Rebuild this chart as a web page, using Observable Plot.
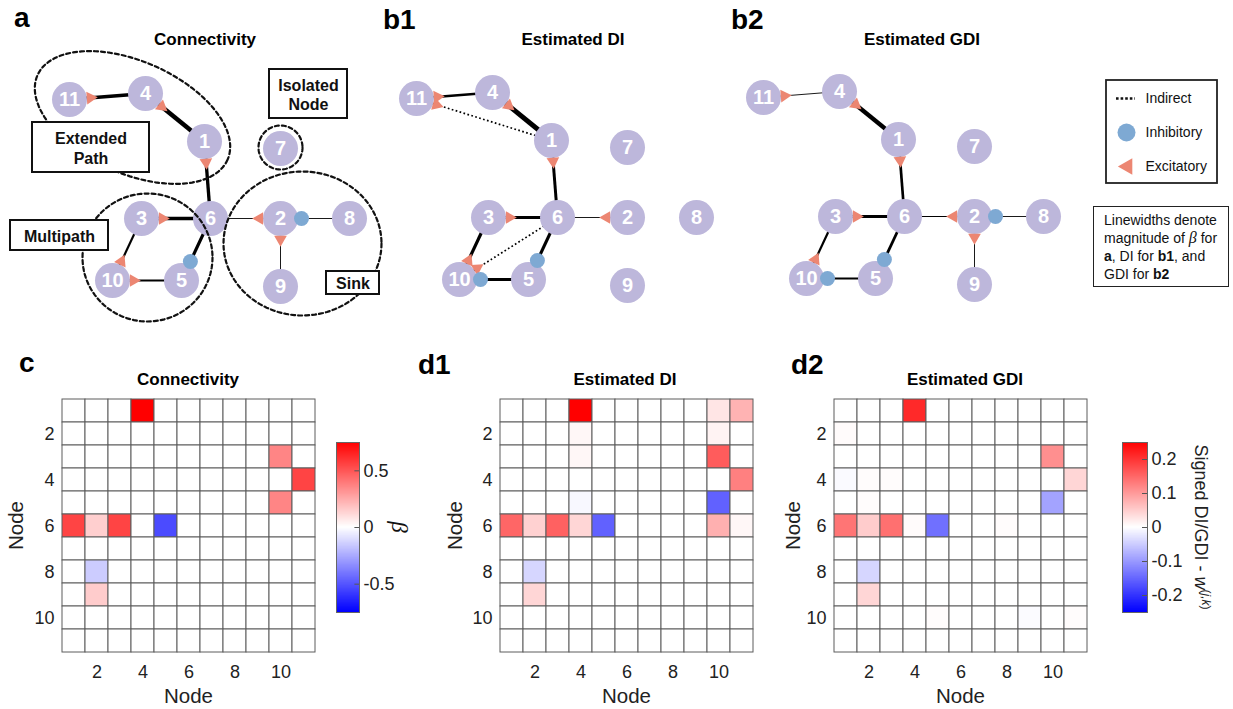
<!DOCTYPE html>
<html><head><meta charset="utf-8">
<script src="https://cdn.jsdelivr.net/npm/d3@7"></script>
<script src="https://cdn.jsdelivr.net/npm/@observablehq/plot@0.6"></script>
<style>
html,body{margin:0;padding:0;background:#fff;}
#fig{position:relative;width:1233px;height:709px;overflow:hidden;font-family:"Liberation Sans",Arial,Helvetica,sans-serif;color:#111;}
.lbl{position:absolute;white-space:nowrap;}
.pl{position:absolute;}
</style></head><body><div id="fig"></div>
<script>
const FONT = '"Liberation Sans", Arial, Helvetica, sans-serif';

// ---------------- data ----------------
const nodeIds = [1, 2, 3, 4, 5, 6, 7, 8, 9, 10, 11];
// network layout (layout units, node 6 at origin, y downward)
const layoutX = [-6, 70, -69, -65, -29, 0, 70, 139, 70, -98, -141];
const layoutY = [-77, 0, 0, -125, 62, 0, -70, 0, 68, 62, -119];

// Connectivity beta (row j, column k), non-zero entries
const connRow = [1, 3, 4, 5, 6, 6, 6, 6, 8, 9];
const connCol = [4, 10, 11, 10, 1, 2, 3, 5, 2, 2];
const connVal = [0.75, 0.36, 0.55, 0.36, 0.55, 0.14, 0.55, -0.53, -0.15, 0.15];

// Estimated DI (signed)
const diRow = [1, 1, 1, 2, 2, 3, 3, 4, 5, 5, 6, 6, 6, 6, 6, 6, 6, 8, 9];
const diCol = [4, 10, 11, 4, 10, 4, 10, 11, 4, 10, 1, 2, 3, 4, 5, 10, 11, 2, 2];
const diVal = [0.25, 0.025, 0.075, 0.008, 0.012, 0.008, 0.16, 0.125, -0.007, -0.155, 0.15, 0.045, 0.155, 0.04, -0.155, 0.077, 0.008, -0.04, 0.04];

// Estimated GDI (signed)
const gdiRow = [1, 2, 3, 4, 4, 4, 4, 5, 5, 6, 6, 6, 6, 6, 6, 8, 9, 10, 10, 10];
const gdiCol = [4, 1, 10, 1, 2, 3, 11, 2, 10, 1, 2, 3, 4, 5, 8, 2, 2, 5, 9, 11];
const gdiVal = [0.21, 0.004, 0.11, -0.005, 0.003, 0.003, 0.04, 0.003, -0.09, 0.135, 0.05, 0.14, 0.004, -0.14, 0.003, -0.04, 0.04, 0.003, -0.004, 0.003];

// edges drawn in the networks: [row j, column k] (marker at node k)
const edgesA = [[1, 4], [4, 11], [6, 1], [6, 3], [6, 2], [6, 5], [3, 10], [5, 10], [8, 2], [9, 2]];
const edgesB1 = [[1, 4], [4, 11], [6, 1], [6, 3], [6, 2], [6, 5], [3, 10], [5, 10]];
const indirectB1 = [[1, 11], [6, 10]];
const edgesB2 = [[1, 4], [4, 11], [6, 1], [6, 3], [6, 2], [6, 5], [3, 10], [5, 10], [8, 2], [9, 2]];

// annotated groups in panel a (layout units)
const groupLabels = ["Extended\nPath", "Isolated\nNode", "Multipath", "Sink"];
const groupCX = [-78, 70, -63, 92];
const groupCY = [-101, -71, 39, 25];
const groupRX = [104, 22, 65, 79];
const groupRY = [56, 22, 64, 72];
const groupAngle = [24, 0, 0, 0];
const boxX1 = [-178, 59, -200, 116];
const boxX2 = [-61, 137, -102, 169];
const boxY1 = [-96, -149, 2, 53];
const boxY2 = [-46, -100, 32, 76];

const tickNodes = [2, 4, 6, 8, 10];
const betaTicks = [-0.5, 0, 0.5];
const diTicks = [-0.2, -0.1, 0, 0.1, 0.2];
const legendItems = ["Indirect", "Inhibitory", "Excitatory"];

// ---------------- helpers ----------------
const fig = document.getElementById("fig");
const NODE = "#bdb7db", EXC = "#ec8672", INH = "#7ea9d3", INK = "#222";
const pos = new Map(nodeIds.map((id, i) => [id, {x: layoutX[i], y: layoutY[i]}]));
const bwr = t => t < 0.5 ? d3.interpolateRgb("#0000ff", "#ffffff")(t * 2) : d3.interpolateRgb("#ffffff", "#ff0000")(t * 2 - 1);
const colorScale = m => ({type: "linear", domain: [-m, m], interpolate: bwr, clamp: true});
const fmt = d => (d < 0 ? "-" : "") + Math.abs(d);

function place(node, left, top, width) {
  const d = document.createElement("div");
  d.className = "pl";
  d.style.left = left + "px"; d.style.top = top + "px"; d.style.width = width + "px";
  d.appendChild(node); fig.appendChild(d); return d;
}
function addText(html, left, top, css = "") {
  const d = document.createElement("div");
  d.className = "lbl";
  d.style.cssText = `left:${left}px;top:${top}px;` + css;
  d.innerHTML = html; fig.appendChild(d); return d;
}
function lookup(rows, cols, vals) {
  return new Map(rows.map((r, i) => [r + "-" + cols[i], vals[i]]));
}
function edgeObjs(pairs, m) {
  return pairs.map(([r, c]) => ({row: r, col: c, v: m.get(r + "-" + c)}));
}
function markers(edges) {
  return edges.map(e => {
    const a = pos.get(e.col), b = pos.get(e.row);
    const dx = b.x - a.x, dy = b.y - a.y, L = Math.hypot(dx, dy);
    const exc = e.v > 0, off = 21;
    return {x: a.x + dx / L * off, y: a.y + dy / L * off, exc, angle: Math.atan2(dy, dx) * 180 / Math.PI + 90};
  });
}

function graphPlot({left, width, cx, cy, direct, indirect = [], k, extra = []}) {
  const mk = markers(direct.concat(indirect));
  const lx1 = d => pos.get(d.col).x, ly1 = d => pos.get(d.col).y, lx2 = d => pos.get(d.row).x, ly2 = d => pos.get(d.row).y;
  return Plot.plot({
    width, height: 330, margin: 0,
    x: {domain: [left - cx, left + width - cx], axis: null},
    y: {domain: [330 - cy, -cy], axis: null},
    style: {background: "transparent", fontFamily: FONT, overflow: "visible"},
    marks: [
      Plot.link(direct, {x1: lx1, y1: ly1, x2: lx2, y2: ly2, stroke: "#000", strokeWidth: d => Math.max(0.9, k * Math.abs(d.v))}),
      Plot.link(indirect, {x1: lx1, y1: ly1, x2: lx2, y2: ly2, stroke: "#000", strokeWidth: 1.7, strokeDasharray: "1.7,2.4"}),
      Plot.dot(nodeIds, {x: d => pos.get(d).x, y: d => pos.get(d).y, r: 17.5, fill: NODE}),
      Plot.dot(mk.filter(d => d.exc), {x: "x", y: "y", symbol: "triangle", r: 4.7, rotate: "angle", fill: EXC}),
      Plot.dot(mk.filter(d => !d.exc), {x: "x", y: "y", r: 7.5, fill: INH}),
      Plot.text(nodeIds, {x: d => pos.get(d).x, y: d => pos.get(d).y, text: d => String(d), fill: "white", fontWeight: "bold", fontSize: 20}),
      ...extra
    ]
  });
}

function heatmapPlot(rows, cols, vals, maxAbs, W, mL, yLabelDx) {
  const m = lookup(rows, cols, vals);
  const grid = d3.cross(nodeIds, nodeIds).map(([r, c]) => ({row: r, col: c, v: m.get(r + "-" + c) ?? 0}));
  const H = 325, mT = 13, gridW = 254, gridH = 254;
  return Plot.plot({
    width: W, height: H, marginLeft: mL, marginRight: W - mL - gridW, marginTop: mT, marginBottom: H - mT - gridH,
    style: {background: "transparent", fontFamily: FONT, overflow: "visible"},
    x: {type: "band", domain: nodeIds, padding: 0, axis: null},
    y: {type: "band", domain: nodeIds, padding: 0, axis: null},
    color: colorScale(maxAbs),
    marks: [
      Plot.cell(grid, {x: "col", y: "row", fill: "v", stroke: "#5c5c5c", strokeWidth: 1, inset: 0}),
      Plot.text(tickNodes, {x: d => d, text: d => String(d), frameAnchor: "bottom", lineAnchor: "middle", dy: 20, fontSize: 18, fill: INK}),
      Plot.text(tickNodes, {y: d => d, text: d => String(d), frameAnchor: "left", textAnchor: "end", dx: -7, fontSize: 18, fill: INK}),
      Plot.text(["Node"], {text: d => d, frameAnchor: "bottom", lineAnchor: "middle", dy: 44, fontSize: 20.5, fill: INK}),
      Plot.text(["Node"], {text: d => d, frameAnchor: "left", textAnchor: "middle", lineAnchor: "middle", dx: yLabelDx, rotate: -90, fontSize: 20.5, fill: INK})
    ]
  });
}

function colorbarPlot(maxAbs, ticks, barW) {
  const n = 170, step = 2 * maxAbs / n;
  const slices = d3.range(n).map(i => -maxAbs + i * step);
  const W = 100, H = 200;
  return Plot.plot({
    width: W, height: H, marginLeft: 6, marginRight: W - 6 - barW, marginTop: 12, marginBottom: H - 12 - 170,
    style: {background: "transparent", fontFamily: FONT, overflow: "visible"},
    x: {domain: [0, 1], axis: null},
    y: {domain: [-maxAbs, maxAbs], axis: null},
    color: colorScale(maxAbs),
    marks: [
      Plot.rect(slices, {x1: 0, x2: 1, y1: d => d, y2: d => d + step * 1.05, fill: d => d + step / 2, shapeRendering: "crispEdges"}),
      Plot.ruleY(ticks, {y: d => d, x1: 0.8, x2: 1, stroke: "#555"}),
      Plot.frame({stroke: "#666"}),
      Plot.text(ticks, {y: d => d, x: 1, dx: 4, text: fmt, textAnchor: "start", fontSize: 18, fill: INK})
    ]
  });
}

// ---------------- panel a extras ----------------
const ellipsePts = groupCX.flatMap((c, i) => {
  const a = groupAngle[i] * Math.PI / 180;
  return d3.range(0, 361, 3).map(t => {
    const u = t * Math.PI / 180, ex = groupRX[i] * Math.cos(u), ey = groupRY[i] * Math.sin(u);
    return {g: i, x: c + ex * Math.cos(a) - ey * Math.sin(a), y: groupCY[i] + ex * Math.sin(a) + ey * Math.cos(a)};
  });
});
const boxes = groupLabels.map((label, i) => ({label, x1: boxX1[i], x2: boxX2[i], y1: boxY1[i], y2: boxY2[i]}));
const extraA = [
  Plot.line(ellipsePts, {x: "x", y: "y", z: "g", stroke: "#111", strokeWidth: 2.2, strokeDasharray: "4,3"}),
  Plot.rect(boxes, {x1: "x1", x2: "x2", y1: "y1", y2: "y2", fill: "white", stroke: "#111", strokeWidth: 2}),
  Plot.text(boxes, {x: d => (d.x1 + d.x2) / 2, y: d => (d.y1 + d.y2) / 2, text: "label", fontWeight: "bold", fontSize: 16, lineHeight: 1.22, fill: "#111"})
];

const mConn = lookup(connRow, connCol, connVal);
const mDI = lookup(diRow, diCol, diVal);
const mGDI = lookup(gdiRow, gdiCol, gdiVal);

place(graphPlot({left: 0, width: 390, cx: 210, cy: 218, direct: edgeObjs(edgesA, mConn), k: 6, extra: extraA}), 0, 0, 390);
place(graphPlot({left: 380, width: 350, cx: 557, cy: 217, direct: edgeObjs(edgesB1, mDI), indirect: edgeObjs(indirectB1, mDI), k: 20}), 380, 0, 350);
place(graphPlot({left: 730, width: 360, cx: 904, cy: 216, direct: edgeObjs(edgesB2, mGDI), k: 20}), 730, 0, 360);

// legend
const legendPlot = Plot.plot({
  width: 125, height: 115, margin: 0,
  x: {domain: [0, 125], axis: null},
  y: {domain: [115, 0], axis: null},
  style: {background: "transparent", fontFamily: FONT, overflow: "visible"},
  marks: [
    Plot.rect([0], {x1: 6, x2: 117, y1: 5, y2: 108, fill: "white", stroke: "#222", strokeWidth: 1.8}),
    Plot.ruleY([23], {y: d => d, x1: 16, x2: 35, stroke: "#111", strokeWidth: 2.6, strokeDasharray: "2.6,2"}),
    Plot.dot([57], {x: 26, y: d => d, r: 9, fill: INH}),
    Plot.dot([91], {x: 27, y: d => d, r: 6.2, symbol: "triangle", rotate: -90, fill: EXC}),
    Plot.text(legendItems, {x: 45, y: (d, i) => [23, 57, 91][i], text: d => d, textAnchor: "start", fontSize: 14, fill: "#111"})
  ]
});
place(legendPlot, 1100, 75, 125);
addText(`Linewidths denote<br>magnitude of <i style="font-family:'Liberation Serif',serif;font-size:16px">β</i> for<br><b>a</b>, DI for <b>b1</b>, and<br>GDI for <b>b2</b>`, 1093, 206,
  "width:136px;height:81px;box-sizing:border-box;border:1.6px solid #222;padding:4px 0 0 10px;font-size:14px;line-height:18px;background:#fff;");

// heatmaps
place(heatmapPlot(connRow, connCol, connVal, 0.75, 330, 61, -45), 0, 385, 330);
place(heatmapPlot(diRow, diCol, diVal, 0.25, 320, 59, -44), 440, 385, 320);
place(heatmapPlot(gdiRow, gdiCol, gdiVal, 0.25, 320, 58, -40), 775, 385, 320);
place(colorbarPlot(0.75, betaTicks, 23), 330, 430, 100);
place(colorbarPlot(0.25, diTicks, 25), 1116, 430, 100);

// colorbar labels
addText(`<i style="font-family:'Liberation Serif',serif">β</i>`, 399, 527, "font-size:23px;transform:translate(-50%,-50%) rotate(90deg);");
addText(`Signed DI/GDI - <i>w</i><sup style="font-size:12px">(<i>j,k</i>)</sup>`, 1201, 527, "font-size:18px;color:#222;transform:translate(-50%,-50%) rotate(90deg);");

// panel letters
const letterCss = "font-size:28px;line-height:28px;font-weight:bold;color:#000;";
addText("a", 14, 4, letterCss);
addText("b1", 383, 6, letterCss);
addText("b2", 731, 6, letterCss);
addText("c", 19, 349, letterCss);
addText("d1", 418, 351, letterCss);
addText("d2", 791, 351, letterCss);

// titles
const titleCss = "width:200px;text-align:center;font-size:17px;line-height:17px;font-weight:bold;color:#000;";
addText("Connectivity", 105, 31, titleCss);
addText("Estimated DI", 473, 31, titleCss);
addText("Estimated GDI", 822, 31, titleCss);
addText("Connectivity", 88, 371, titleCss);
addText("Estimated DI", 525, 371, titleCss);
addText("Estimated GDI", 865, 371, titleCss);
</script></body></html>
